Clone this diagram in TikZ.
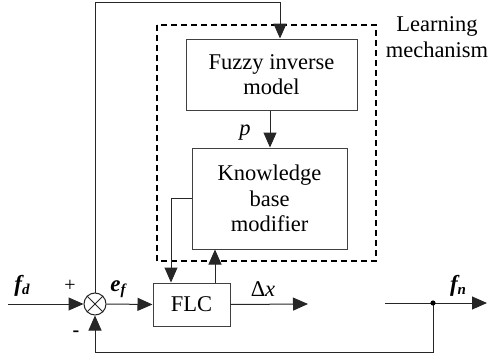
\documentclass[tikz,border=0pt]{standalone}
\usepackage{fontspec}
\setmainfont{Liberation Serif}
\usetikzlibrary{arrows.meta}
\begin{document}
\begin{tikzpicture}[x=1pt,y=-1pt,
  line/.style={draw=black!85, line width=1pt},
  arr/.style={line, -{Triangle[length=15pt,width=13pt]}},
  blk/.style={draw=black!75, line width=1pt, inner sep=0pt, align=center,
    font=\fontsize{22.5}{25.5}\selectfont},
  lbl/.style={inner sep=0pt, font=\fontsize{22.5}{25.5}\selectfont},
  sig/.style={inner sep=0pt, font=\fontsize{23}{25}\selectfont\bfseries\itshape}]
\useasboundingbox (0,0) rectangle (488,356);

% learning mechanism frame
\draw[line width=2pt, dash pattern=on 6pt off 4pt] (157,25) rectangle (376,261);
\node[lbl, align=center] (lm) at (437,37) {Learning\\mechanism};

% blocks
\node[blk, minimum width=171pt, minimum height=71pt] (fim) at (271.5,74.5) {Fuzzy inverse\\model};
\node[blk, minimum width=155pt, minimum height=101pt] (kb) at (269.5,198.5) {Knowledge\\base\\modifier};
\node[blk, minimum width=77pt, minimum height=43pt] (flc) at (191.5,304.5) {FLC};
\node[circle, draw=black!85, line width=1pt, minimum size=22pt, inner sep=0pt] (sum) at (95,304) {};
\draw[line] (sum.north west) -- (sum.south east) (sum.north east) -- (sum.south west);

% helper coordinates
\coordinate (in) at (8,304);
\coordinate (top) at (280,2);
\coordinate (pc) at (270,0);
\coordinate (kx) at (171,0);
\coordinate (ux) at (215,0);
\coordinate (dxend) at (308,304);
\coordinate (fnstart) at (385,303);
\coordinate (dot) at (433,303);
\coordinate (fnend) at (487,303);
\coordinate (fb) at (95,352);

% connectors
\draw[arr] (in) -- (sum.west);
\draw[arr] (sum.east) -- (flc.west);
\draw[arr] (sum.north) |- (top) -- (top |- fim.north);
\draw[arr] (pc |- fim.south) -- (pc |- kb.north);
\draw[arr] (kb.west) -| (kx |- flc.north);
\draw[arr] (ux |- flc.north) -- (ux |- kb.south);
\draw[arr] (flc.east) -- (dxend);
\draw[arr] (fnstart) -- (fnend);
\draw[arr] (dot) |- (fb) -- (sum.south);
\fill (dot) circle (2.6pt);

% signal labels
\node[sig] (fd) at (22,286) {f\raisebox{-0.25ex}{\fontsize{15}{15}\selectfont d}};
\node[sig] (ef) at (118,289) {e\raisebox{-0.25ex}{\fontsize{15}{15}\selectfont f}};
\node[sig] (fn) at (458,286) {f\raisebox{-0.25ex}{\fontsize{15}{15}\selectfont n}};
\node[lbl] (dx) at (263,289) {Δ\textit{x}};
\node[lbl] (p) at (245,133) {\textit{p}};
\node[inner sep=0pt, font=\fontsize{20}{20}\selectfont] (plus) at (70,286) {+};
\node[inner sep=0pt, font=\fontsize{20}{20}\selectfont\bfseries] (minus) at (76,334) {-};
\end{tikzpicture}
\end{document}
